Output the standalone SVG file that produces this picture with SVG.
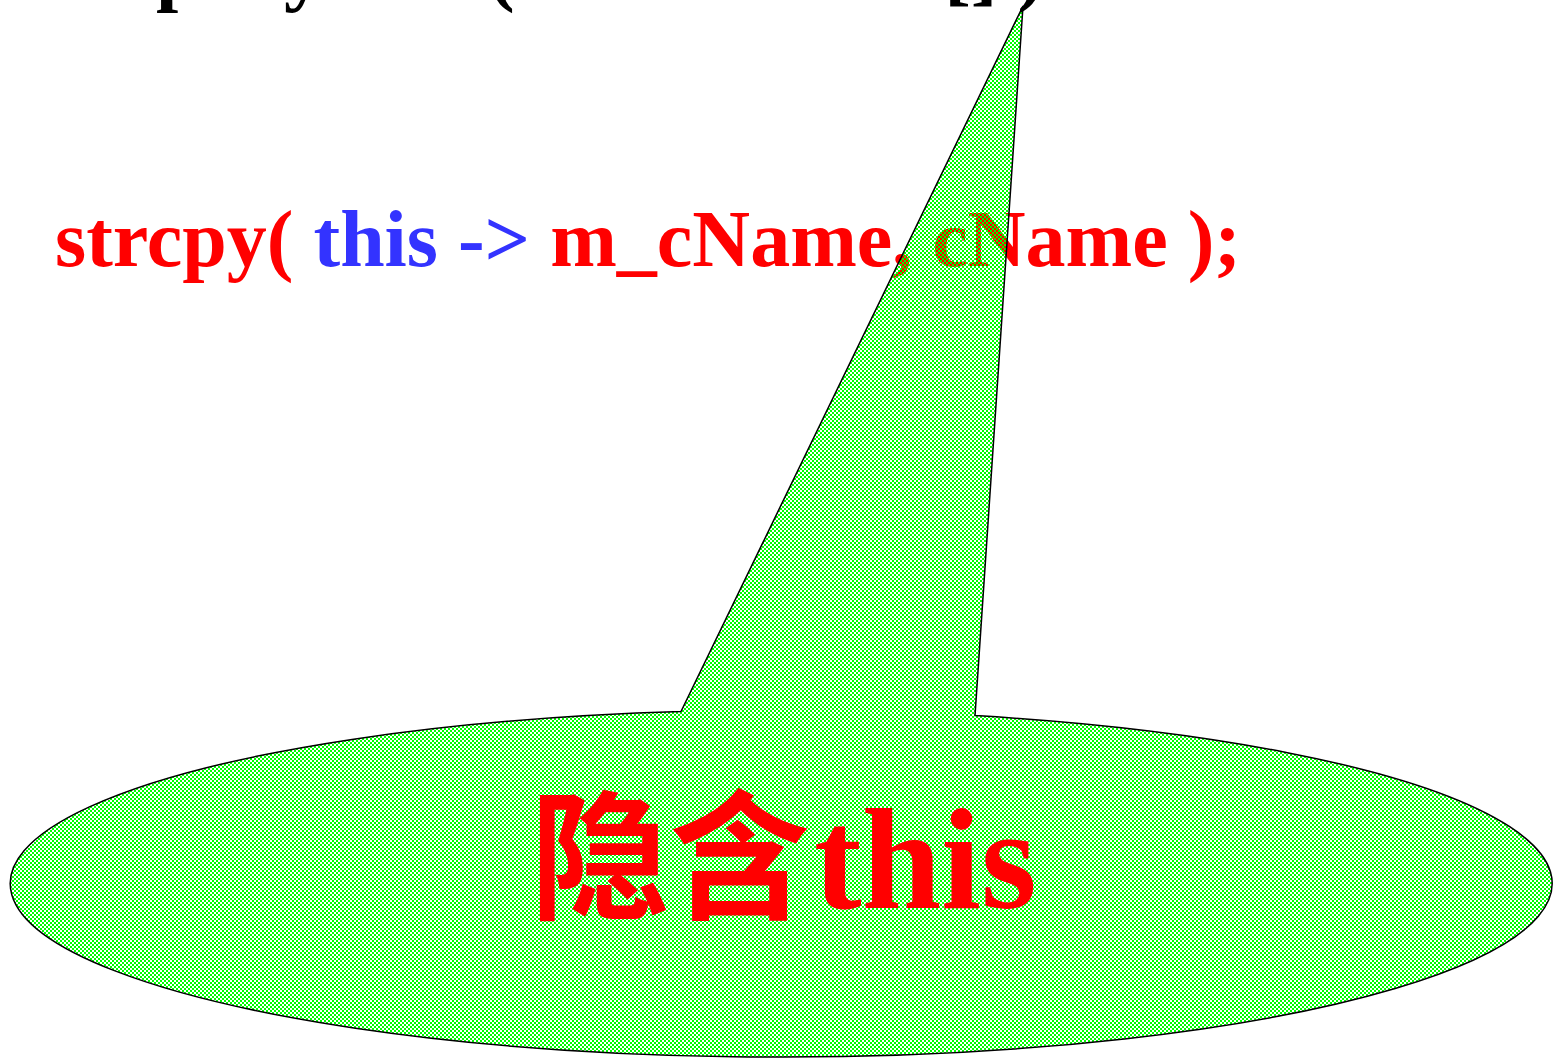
<svg xmlns="http://www.w3.org/2000/svg" width="1553" height="1060" viewBox="0 0 1553 1060">
  <style>
    .code { font-family: "Liberation Serif", "Noto Sans CJK SC", serif; font-weight: bold; font-size: 80px; }
    .red { fill: #FF0000; }
    .blue { fill: #3333FF; }
    .black { fill: #000000; }
    .callout { fill: url(#checker); stroke: #000000; stroke-width: 1.5; stroke-linejoin: miter; }
    .big { font-family: "Liberation Serif", "Noto Sans CJK SC", serif; font-weight: bold; font-size: 140px; fill: #FF0000; }
  </style>
  <defs>
    <pattern id="checker" x="0" y="0" width="4" height="4" patternUnits="userSpaceOnUse">
      <rect x="0" y="0" width="2" height="2" fill="#00FF00"/>
      <rect x="2" y="2" width="2" height="2" fill="#00FF00"/>
    </pattern>
  </defs>
  <rect x="0" y="0" width="1553" height="1060" fill="#FFFFFF"/>

  <g id="top-line">
    <text class="code black" x="37 90 156 204 228 284 325 361" y="-4">Employee</text>
    <text class="code black" x="488" y="-4">( char cName[] )</text>
  </g>

  <g id="code-line">
    <text class="code" x="55" y="266"><tspan class="red">strcpy( </tspan><tspan class="blue">this -&gt; </tspan><tspan class="red">m_cName, cName );</tspan></text>
  </g>

  <g id="connectors"></g>

  <g id="callout">
    <path class="callout" d="M681,711.5 L1023,6 L975,715.6 A771,173.5 0 1 1 681,711.5 Z"/>
    <text class="big" x="530" y="908">隐含<tspan dx="4" font-size="143">this</tspan></text>
  </g>
</svg>
